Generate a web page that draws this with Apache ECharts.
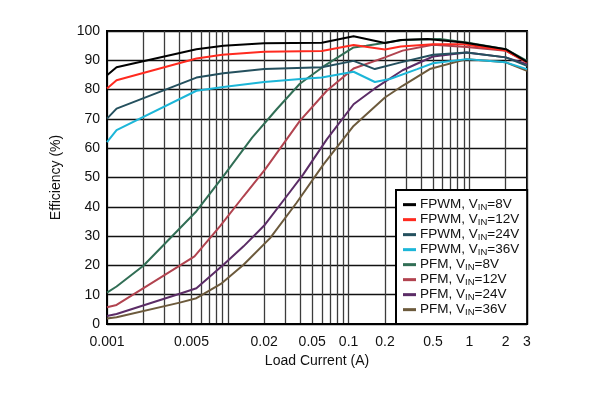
<!DOCTYPE html>
<html>
<head>
<meta charset="utf-8">
<script src="https://cdn.jsdelivr.net/npm/echarts@6/dist/echarts.min.js"></script>
<style>
  html, body { margin: 0; padding: 0; background: #fff; }
  #main { width: 605px; height: 396px; }
</style>
</head>
<body>
<div id="main"></div>
<script>
// 数据：[负载电流 A, 效率 %]
var fpwm8 = [[0.001, 84.9], [0.0012, 87.6], [0.0055, 93.8], [0.0092, 95.0], [0.02, 95.8], [0.06, 96.0], [0.11, 98.2], [0.2, 95.9], [0.27, 96.9], [0.45, 97.3], [0.9, 96.1], [2, 93.8], [3, 89.5]];
var fpwm12 = [[0.001, 80.4], [0.0012, 83.2], [0.0055, 90.6], [0.009, 91.9], [0.02, 92.9], [0.06, 93.2], [0.11, 95.2], [0.2, 93.7], [0.27, 94.7], [0.5, 95.5], [0.9, 95.5], [2, 93.3], [3, 89.3]];
var fpwm24 = [[0.001, 70.1], [0.0012, 73.5], [0.0055, 84.1], [0.0092, 85.6], [0.02, 87.0], [0.06, 87.6], [0.11, 89.8], [0.165, 87.0], [0.27, 89.3], [0.5, 91.9], [0.95, 92.7], [2, 91.0], [3, 88.1]];
var fpwm36 = [[0.001, 62.1], [0.0012, 66.2], [0.0055, 79.6], [0.0092, 80.9], [0.02, 82.6], [0.04, 83.6], [0.06, 84.1], [0.11, 86.1], [0.165, 82.6], [0.22, 83.6], [0.37, 87.0], [0.5, 89.0], [0.95, 90.4], [2, 89.3], [3, 87.0]];
var pfm8 = [[0.001, 10.7], [0.0012, 12.8], [0.002, 19.9], [0.0055, 38.5], [0.0092, 50.5], [0.0159, 63.6], [0.0254, 73.3], [0.0395, 82.0], [0.062, 87.9], [0.11, 94.4], [0.14, 95.0], [0.28, 96.9], [0.57, 97.3], [0.95, 96.1], [2, 93.8], [3, 89.8]];
var pfm12 = [[0.001, 5.7], [0.0012, 6.5], [0.004, 19.9], [0.0053, 23.1], [0.0086, 33.3], [0.0135, 43.6], [0.0203, 52.7], [0.0307, 63.0], [0.0395, 69.3], [0.066, 79.6], [0.11, 87.2], [0.2, 91.0], [0.28, 93.3], [0.5, 95.3], [0.95, 94.5], [2, 93.3], [3, 89.3]];
var pfm24 = [[0.001, 2.7], [0.0012, 3.4], [0.004, 10.3], [0.0055, 12.2], [0.0092, 20.2], [0.0135, 26.5], [0.0203, 33.9], [0.0307, 43.6], [0.042, 51.0], [0.066, 63.0], [0.11, 75.0], [0.165, 80.4], [0.28, 86.6], [0.5, 91.3], [0.95, 92.7], [2, 91.0], [3, 88.7]];
var pfm36 = [[0.001, 1.9], [0.0012, 2.3], [0.004, 7.3], [0.0055, 8.8], [0.0089, 13.9], [0.0135, 20.2], [0.0224, 29.3], [0.037, 41.3], [0.062, 54.5], [0.09, 63.0], [0.11, 67.6], [0.2, 77.3], [0.28, 81.3], [0.47, 87.0], [0.95, 90.4], [2, 89.3], [3, 86.4]];

var seriesNames = ['FPWM, V{sub|IN}=8V', 'FPWM, V{sub|IN}=12V', 'FPWM, V{sub|IN}=24V', 'FPWM, V{sub|IN}=36V',
    'PFM, V{sub|IN}=8V', 'PFM, V{sub|IN}=12V', 'PFM, V{sub|IN}=24V', 'PFM, V{sub|IN}=36V'];
var seriesData = [fpwm8, fpwm12, fpwm24, fpwm36, pfm8, pfm12, pfm24, pfm36];
var seriesColors = ['#000000', '#ff2a1f', '#24505e', '#1cb6d8', '#316e55', '#b1434f', '#5b2c66', '#6c5a3c'];

var xLabelValues = [0.001, 0.005, 0.02, 0.05, 0.1, 0.2, 0.5, 1, 2, 3];
var xGridValues = [0.001, 0.002, 0.003, 0.004, 0.005, 0.006, 0.007, 0.008, 0.009,
    0.01, 0.02, 0.03, 0.04, 0.05, 0.06, 0.07, 0.08, 0.09,
    0.1, 0.2, 0.3, 0.4, 0.5, 0.6, 0.7, 0.8, 0.9, 1, 2, 3];

var myChart = echarts.init(document.getElementById('main'), null, {renderer: 'canvas'});

var series = [];
for (var i = 0; i < seriesData.length; i++) {
    series.push({
        name: seriesNames[i],
        type: 'line',
        data: seriesData[i],
        showSymbol: false,
        symbol: 'none',
        smooth: false,
        z: 10 - i * 0.1,
        lineStyle: {color: seriesColors[i], width: 2},
        itemStyle: {color: seriesColors[i]}
    });
}

var option = {
    backgroundColor: '#fff',
    animation: false,
    textStyle: {fontFamily: 'Liberation Sans, Arial, sans-serif'},
    grid: {
        left: 107,
        top: 31,
        right: 78,
        bottom: 72,
        show: true,
        borderColor: '#000',
        borderWidth: 2,
        containLabel: false
    },
    legend: {
        orient: 'vertical',
        left: 396,
        top: 190,
        backgroundColor: '#fff',
        borderColor: '#000',
        borderWidth: 2,
        borderRadius: 0,
        padding: [7, 8, 7, 7],
        itemWidth: 13,
        itemHeight: 3,
        itemGap: 0,
        icon: 'rect',
        z: 20,
        textStyle: {
            fontSize: 13.5,
            lineHeight: 14.7,
            color: '#111',
            padding: [0, 0, 0, -1],
            rich: {
                sub: {fontSize: 9.5, lineHeight: 14.7, padding: [5, 0, 0, 0], verticalAlign: 'bottom'}
            }
        },
        data: seriesNames
    },
    xAxis: {
        type: 'log',
        logBase: 10,
        min: 0.001,
        max: 3,
        name: 'Load Current (A)',
        nameLocation: 'middle',
        nameGap: 30,
        nameTextStyle: {fontSize: 14, color: '#111'},
        axisLine: {show: true, lineStyle: {color: '#000', width: 2}},
        axisTick: {show: false, customValues: xGridValues},
        axisLabel: {
            customValues: xLabelValues,
            fontSize: 14,
            color: '#111',
            margin: 11,
            formatter: function (v) { return String(+v.toPrecision(3)); }
        },
        splitLine: {show: true, lineStyle: {color: '#3c3c3c', width: 1.3}}
    },
    yAxis: {
        type: 'value',
        min: 0,
        max: 100,
        interval: 10,
        name: 'Efficiency (%)',
        nameLocation: 'middle',
        nameGap: 44,
        nameTextStyle: {fontSize: 14, color: '#111'},
        axisLine: {show: true, lineStyle: {color: '#000', width: 2}},
        axisTick: {show: false},
        axisLabel: {fontSize: 14, color: '#111', margin: 7},
        splitLine: {show: true, lineStyle: {color: '#111', width: 1.3}}
    },
    series: series
};

myChart.setOption(option);
</script>
</body>
</html>
